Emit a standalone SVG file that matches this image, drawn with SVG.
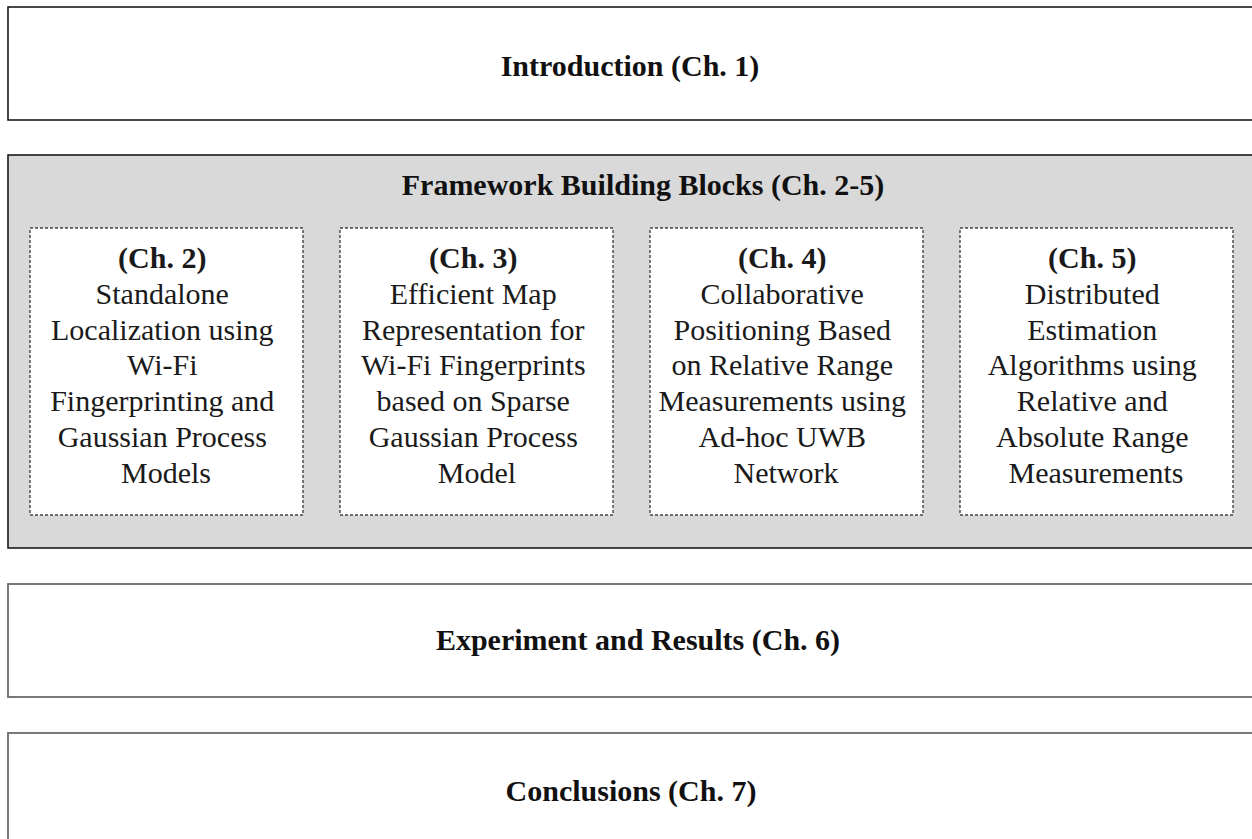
<svg xmlns="http://www.w3.org/2000/svg" width="1252" height="839" viewBox="0 0 1252 839">
  <style>
    .band { fill: #ffffff; stroke: #1a1a1a; stroke-width: 1.6; }
    .band-soft { fill: #ffffff; stroke: #6b6b6b; stroke-width: 1.8; }
    .frame { fill: #d9d9d9; stroke: #1a1a1a; stroke-width: 1.6; }
    .block { fill: #ffffff; stroke: #444444; stroke-width: 1.4; stroke-dasharray: 3 2; }
    .title { font-family: "Liberation Serif", "Times New Roman", serif; font-weight: bold; font-size: 30px; fill: #111111; text-anchor: middle; }
    .body { font-family: "Liberation Serif", "Times New Roman", serif; font-size: 30px; fill: #1a1a1a; text-anchor: middle; }
  </style>

  <g id="intro">
    <rect class="band" x="8" y="7" width="1260" height="113"/>
    <text class="title" x="630" y="76">Introduction (Ch. 1)</text>
  </g>

  <g id="framework">
    <rect class="frame" x="8" y="155" width="1260" height="393"/>
    <text class="title" x="643" y="195">Framework Building Blocks (Ch. 2-5)</text>
  </g>

  <g id="ch2">
    <rect class="block" x="30" y="228" width="273" height="287"/>
    <text class="body" x="166" y="268">
      <tspan x="166" font-weight="bold">(Ch. 2)</tspan>
      <tspan x="166" dy="35.8">Standalone</tspan>
      <tspan x="166" dy="35.8">Localization using</tspan>
      <tspan x="166" dy="35.8">Wi-Fi</tspan>
      <tspan x="166" dy="35.8">Fingerprinting and</tspan>
      <tspan x="166" dy="35.8">Gaussian Process</tspan>
      <tspan x="166" dy="35.8">Models</tspan>
    </text>
  </g>

  <g id="ch3">
    <rect class="block" x="340" y="228" width="273" height="287"/>
    <text class="body" x="477" y="268">
      <tspan x="477" font-weight="bold">(Ch. 3)</tspan>
      <tspan x="477" dy="35.8">Efficient Map</tspan>
      <tspan x="477" dy="35.8">Representation for</tspan>
      <tspan x="477" dy="35.8">Wi-Fi Fingerprints</tspan>
      <tspan x="477" dy="35.8">based on Sparse</tspan>
      <tspan x="477" dy="35.8">Gaussian Process</tspan>
      <tspan x="477" dy="35.8">Model</tspan>
    </text>
  </g>

  <g id="ch4">
    <rect class="block" x="650" y="228" width="273" height="287"/>
    <text class="body" x="786" y="268">
      <tspan x="786" font-weight="bold">(Ch. 4)</tspan>
      <tspan x="786" dy="35.8">Collaborative</tspan>
      <tspan x="786" dy="35.8">Positioning Based</tspan>
      <tspan x="786" dy="35.8">on Relative Range</tspan>
      <tspan x="786" dy="35.8">Measurements using</tspan>
      <tspan x="786" dy="35.8">Ad-hoc UWB</tspan>
      <tspan x="786" dy="35.8">Network</tspan>
    </text>
  </g>

  <g id="ch5">
    <rect class="block" x="960" y="228" width="273" height="287"/>
    <text class="body" x="1096" y="268">
      <tspan x="1096" font-weight="bold">(Ch. 5)</tspan>
      <tspan x="1096" dy="35.8">Distributed</tspan>
      <tspan x="1096" dy="35.8">Estimation</tspan>
      <tspan x="1096" dy="35.8">Algorithms using</tspan>
      <tspan x="1096" dy="35.8">Relative and</tspan>
      <tspan x="1096" dy="35.8">Absolute Range</tspan>
      <tspan x="1096" dy="35.8">Measurements</tspan>
    </text>
  </g>

  <g id="experiments">
    <rect class="band-soft" x="8" y="584" width="1260" height="113"/>
    <text class="title" x="638" y="650">Experiment and Results (Ch. 6)</text>
  </g>

  <g id="conclusions">
    <rect class="band-soft" x="8" y="733" width="1260" height="130"/>
    <text class="title" x="631" y="801">Conclusions (Ch. 7)</text>
  </g>

  <g id="connectors"/>
</svg>
